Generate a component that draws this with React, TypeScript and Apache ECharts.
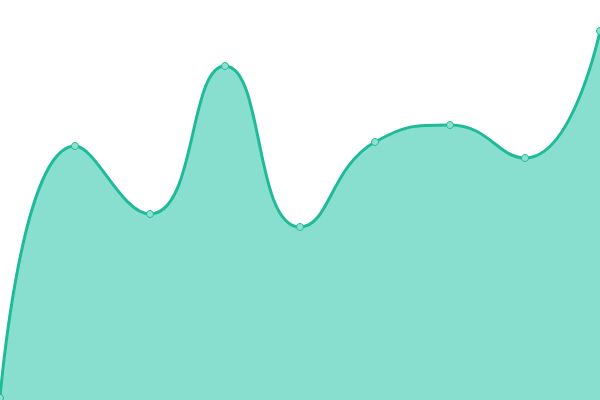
import { useEffect, useRef } from 'react';
import * as echarts from 'echarts';

const categories = ['1', '2', '3', '4', '5', '6', '7', '8', '9'];
const values = [2, 254, 186, 334, 173, 258, 275, 242, 369];
const yMin = 0;
const yMax = 400;

export default function App() {
  const chartRef = useRef<HTMLDivElement>(null);

  useEffect(() => {
    if (!chartRef.current) return;
    document.body.style.margin = '0';
    const chart = echarts.init(chartRef.current, undefined, { renderer: 'svg' });

    chart.setOption({
      animation: false,
      grid: { left: 0, right: 0, top: 0, bottom: 0 },
      xAxis: {
        type: 'category',
        data: categories,
        boundaryGap: false,
        show: false
      },
      yAxis: {
        type: 'value',
        min: yMin,
        max: yMax,
        show: false
      },
      series: [
        {
          type: 'line',
          data: values,
          smooth: 0.5,
          symbol: 'circle',
          symbolSize: 7,
          lineStyle: { color: '#1fbb98', width: 3 },
          itemStyle: { color: '#8ee0cf', borderColor: '#1fbb98', borderWidth: 1 },
          areaStyle: { color: '#89dfcf', opacity: 1 }
        }
      ]
    });

    return () => {
      chart.dispose();
    };
  }, []);

  return <div ref={chartRef} style={{ width: '600px', height: '400px' }} />;
}
